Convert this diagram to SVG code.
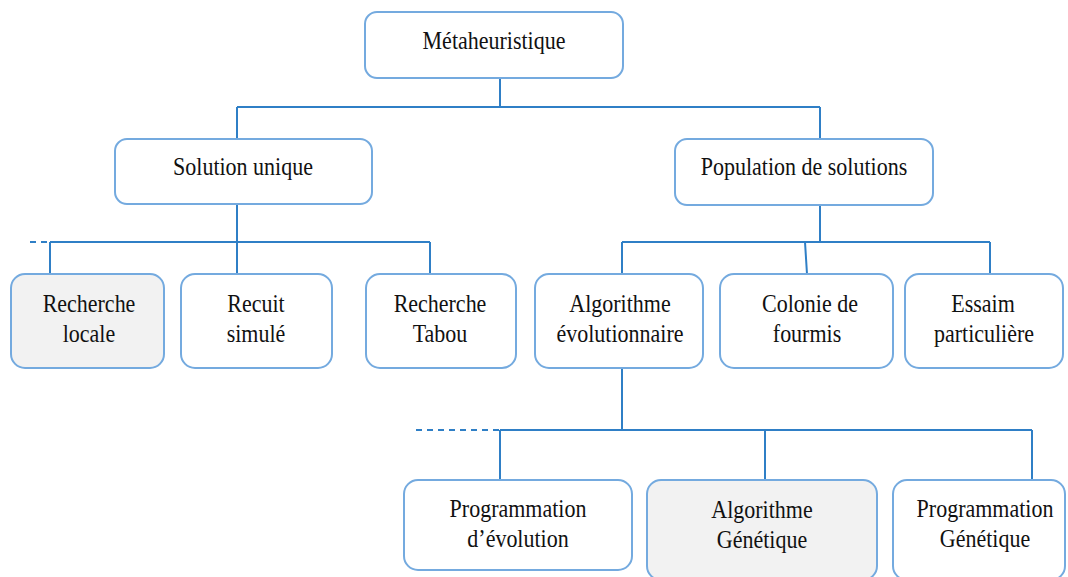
<svg xmlns="http://www.w3.org/2000/svg" width="1068" height="577" viewBox="0 0 1068 577">
  <style>
    .box { fill: #ffffff; stroke: #74aadf; stroke-width: 2; }
    .grey { fill: #f2f2f2; }
    .lbl { font-family: "Liberation Serif", "Times New Roman", serif; font-size: 22px; fill: #111111; text-anchor: middle; }
    .link { fill: none; stroke: #2f7fc6; stroke-width: 2; }
    .dash { fill: none; stroke: #2f7fc6; stroke-width: 2; stroke-dasharray: 6 5; }
  </style>

  <!-- connectors -->
  <g id="connectors">
    <path class="link" d="M500 78 V107 M237 107 H820 M237 107 V139 M820 107 V139"/>
    <path class="link" d="M237 204 V242 M50 242 H430 M50 242 V274 M237 242 V274 M430 242 V274"/>
    <path class="dash" d="M30 242 H50"/>
    <path class="link" d="M820 205 V242 M622 242 H990 M622 242 V274 M805 242 L807 274 M990 242 V274"/>
    <path class="link" d="M622 368 V430 M500 430 H1032 M500 430 V480 M765 430 V480 M1032 430 V480"/>
    <path class="dash" d="M416 430 H500"/>
  </g>

  <!-- labels are drawn slightly taller than wide (scaleY 1.15) -->
  <g id="metaheuristique">
    <rect class="box" x="365" y="12" width="258" height="66" rx="12"/>
    <text class="lbl" transform="translate(494 49) scale(1 1.15)">Métaheuristique</text>
  </g>

  <g id="solution-unique">
    <rect class="box" x="115" y="139" width="257" height="65" rx="12"/>
    <text class="lbl" transform="translate(243 175) scale(1 1.15)">Solution unique</text>
  </g>

  <g id="population">
    <rect class="box" x="675" y="139" width="258" height="66" rx="12"/>
    <text class="lbl" transform="translate(804 175) scale(1 1.15)">Population de solutions</text>
  </g>

  <g id="recherche-locale">
    <rect class="box grey" x="11" y="274" width="153" height="94" rx="14"/>
    <text class="lbl" transform="translate(89 312) scale(1 1.15)">Recherche</text>
    <text class="lbl" transform="translate(89 342) scale(1 1.15)">locale</text>
  </g>

  <g id="recuit-simule">
    <rect class="box" x="181" y="274" width="151" height="94" rx="14"/>
    <text class="lbl" transform="translate(256 312) scale(1 1.15)">Recuit</text>
    <text class="lbl" transform="translate(256 342) scale(1 1.15)">simulé</text>
  </g>

  <g id="recherche-tabou">
    <rect class="box" x="366" y="274" width="150" height="94" rx="14"/>
    <text class="lbl" transform="translate(440 312) scale(1 1.15)">Recherche</text>
    <text class="lbl" transform="translate(440 342) scale(1 1.15)">Tabou</text>
  </g>

  <g id="algorithme-evolutionnaire">
    <rect class="box" x="535" y="274" width="168" height="94" rx="14"/>
    <text class="lbl" transform="translate(620 312) scale(1 1.15)">Algorithme</text>
    <text class="lbl" transform="translate(620 342) scale(1 1.15)">évolutionnaire</text>
  </g>

  <g id="colonie-fourmis">
    <rect class="box" x="720" y="274" width="173" height="94" rx="14"/>
    <text class="lbl" transform="translate(810 312) scale(1 1.15)">Colonie de</text>
    <text class="lbl" transform="translate(807 342) scale(1 1.15)">fourmis</text>
  </g>

  <g id="essaim">
    <rect class="box" x="905" y="274" width="158" height="94" rx="14"/>
    <text class="lbl" transform="translate(983 312) scale(1 1.15)">Essaim</text>
    <text class="lbl" transform="translate(984 342) scale(1 1.15)">particulière</text>
  </g>

  <g id="programmation-evolution">
    <rect class="box" x="404" y="480" width="228" height="90" rx="14"/>
    <text class="lbl" transform="translate(518 517) scale(1 1.15)">Programmation</text>
    <text class="lbl" transform="translate(518 547) scale(1 1.15)">d’évolution</text>
  </g>

  <g id="algorithme-genetique">
    <rect class="box grey" x="647" y="480" width="230" height="100" rx="14"/>
    <text class="lbl" transform="translate(762 518) scale(1 1.15)">Algorithme</text>
    <text class="lbl" transform="translate(762 548) scale(1 1.15)">Génétique</text>
  </g>

  <g id="programmation-genetique">
    <rect class="box" x="893" y="480" width="172" height="100" rx="14"/>
    <text class="lbl" transform="translate(985 517) scale(1 1.15)">Programmation</text>
    <text class="lbl" transform="translate(985 547) scale(1 1.15)">Génétique</text>
  </g>
</svg>
